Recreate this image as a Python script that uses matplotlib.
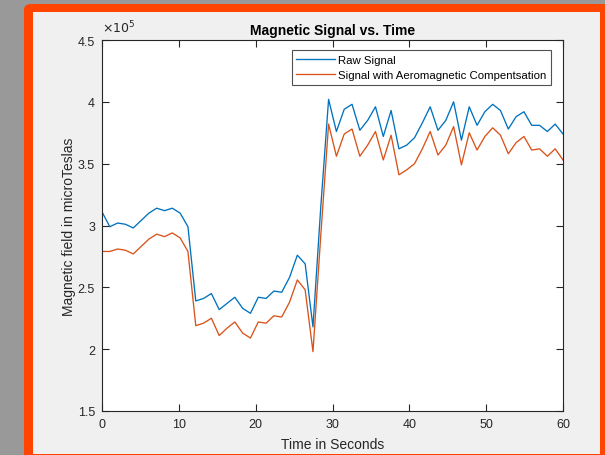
import numpy as np
import matplotlib
matplotlib.use("Agg")
import matplotlib.pyplot as plt
from matplotlib.patches import Rectangle, FancyBboxPatch

plt.rcParams['font.family'] = ['Liberation Sans', 'DejaVu Sans']

# ---- data (values in units of 1e5 microTeslas) ----
time_s = np.linspace(0, 60, 60)
raw_signal = [3.11, 2.99, 3.02, 3.01, 2.98, 3.04, 3.10, 3.14, 3.12, 3.14,
              3.10, 2.99, 2.39, 2.41, 2.45, 2.32, 2.37, 2.42, 2.33, 2.29,
              2.42, 2.41, 2.47, 2.46, 2.58, 2.76, 2.69, 2.18, 3.15, 4.02,
              3.76, 3.94, 3.98, 3.77, 3.85, 3.96, 3.72, 3.93, 3.62, 3.65,
              3.71, 3.83, 3.96, 3.77, 3.85, 4.00, 3.69, 3.96, 3.81, 3.92,
              3.98, 3.93, 3.78, 3.88, 3.92, 3.81, 3.81, 3.76, 3.82, 3.74]
compensated = [2.79, 2.79, 2.81, 2.80, 2.77, 2.83, 2.89, 2.93, 2.91, 2.94,
               2.90, 2.79, 2.19, 2.21, 2.25, 2.11, 2.17, 2.22, 2.13, 2.09,
               2.22, 2.21, 2.27, 2.26, 2.38, 2.56, 2.48, 1.98, 2.92, 3.82,
               3.56, 3.74, 3.78, 3.56, 3.65, 3.76, 3.53, 3.73, 3.41, 3.45,
               3.50, 3.62, 3.76, 3.57, 3.65, 3.80, 3.49, 3.75, 3.61, 3.72,
               3.79, 3.73, 3.58, 3.67, 3.72, 3.61, 3.62, 3.56, 3.62, 3.53]
x_ticks = [0, 10, 20, 30, 40, 50, 60]
y_ticks = [1.5, 2, 2.5, 3, 3.5, 4, 4.5]
y_tick_labels = ['1.5', '2', '2.5', '3', '3.5', '4', '4.5']
series_labels = ['Raw Signal', 'Signal with Aeromagnetic Compentsation']

W, H = 605, 456
fig = plt.figure(figsize=(W / 100, H / 100), dpi=100)
fig.patch.set_facecolor('#999999')

def px_rect(x0, y0, x1, y1, color, rounded=False):
    if rounded:
        p = FancyBboxPatch((x0 / W, 1 - y1 / H), (x1 - x0) / W, (y1 - y0) / H,
                           boxstyle="round,pad=0,rounding_size=0.012",
                           transform=fig.transFigure, facecolor=color,
                           edgecolor='none', zorder=0)
    else:
        p = Rectangle((x0 / W, 1 - y1 / H), (x1 - x0) / W, (y1 - y0) / H,
                      transform=fig.transFigure, facecolor=color,
                      edgecolor='none', zorder=0)
    fig.add_artist(p)

px_rect(24, 5, 620, 470, '#ff4500', rounded=True)
px_rect(32.5, 12.5, 600, 455, '#f0f0f0')

ax = fig.add_axes([102 / W, 1 - 412 / H, (563 - 102) / W, (412 - 41) / H])
ax.set_zorder(2)
ax.set_facecolor('white')

ax.plot(time_s, raw_signal, color='#0072BD', lw=0.95, label=series_labels[0])
ax.plot(time_s, compensated, color='#D95319', lw=0.95, label=series_labels[1])

ax.set_xlim(0, 60)
ax.set_ylim(1.5, 4.5)
ax.set_xticks(x_ticks)
ax.set_xticklabels([str(v) for v in x_ticks])
ax.set_yticks(y_ticks)
ax.set_yticklabels(y_tick_labels)
ax.tick_params(direction='in', length=5, width=0.8, colors='#262626',
               labelsize=9, top=True, right=True, pad=5)
for s in ax.spines.values():
    s.set_color('#262626')
    s.set_linewidth(0.8)

ax.set_title('Magnetic Signal vs. Time', fontsize=10, fontweight='bold',
             color='#000000', pad=4)
ax.set_xlabel('Time in Seconds', fontsize=10, color='#262626', labelpad=5)
ax.set_ylabel('Magnetic field in microTeslas', fontsize=10, color='#262626',
              labelpad=1)
ax.text(0.0, 1.012, r'$\times10^{5}$', transform=ax.transAxes, fontsize=9,
        color='#262626', ha='left', va='bottom')

leg = ax.legend(loc='upper right', bbox_to_anchor=(551 / W, 1 - 51 / H),
                bbox_transform=fig.transFigure, fontsize=8.2, frameon=True,
                fancybox=False, borderpad=0.42, handlelength=3.4,
                handletextpad=0.25, labelspacing=0.5, borderaxespad=0)
leg.get_frame().set_edgecolor('#262626')
leg.get_frame().set_linewidth(0.8)

fig.savefig('out.png', dpi=100, facecolor=fig.get_facecolor())
